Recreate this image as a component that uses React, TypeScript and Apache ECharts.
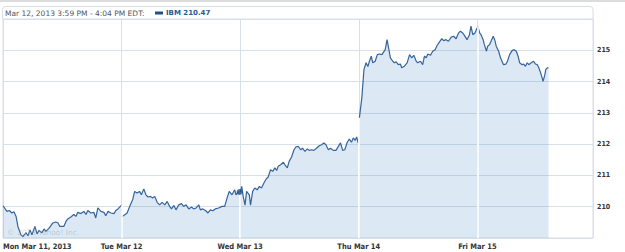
import React, { useEffect, useRef } from "react";
import * as echarts from "echarts";

// Trading minutes per session (9:30 - 16:00)
const SESSION = 390;

const dayLabels = ["Mon Mar 11, 2013", "Tue Mar 12", "Wed Mar 13", "Thu Mar 14", "Fri Mar 15"];
const yTickValues = [210, 211, 212, 213, 214, 215];

// [minutes since open, price]
const monData: [number, number][] = [
  [0, 210.03], [13, 209.85], [21, 209.88], [29, 209.8], [36, 209.84], [43, 209.69], [49, 209.37], [59, 209.1],
  [66, 209.05], [76, 209.17], [82, 209.07], [89, 209.26], [95, 209.1], [105, 209.37], [112, 209.13], [118, 209.24],
  [128, 209.17], [135, 209.29], [141, 209.21], [151, 209.31], [164, 209.48], [174, 209.51], [181, 209.48], [187, 209.37],
  [200, 209.37], [207, 209.53], [213, 209.61], [223, 209.67], [233, 209.75], [240, 209.69], [246, 209.82], [256, 209.78],
  [266, 209.85], [273, 209.75], [279, 209.88], [289, 209.8], [299, 209.82], [305, 209.64], [312, 209.96], [322, 209.85],
  [332, 209.82], [338, 209.71], [345, 209.85], [355, 209.8], [365, 209.78], [371, 209.88], [378, 209.93], [390, 210.05],
];

const tueData: [number, number][] = [
  [0, 209.68], [7, 209.72], [18, 209.8], [29, 210.06], [37, 210.24], [43, 210.49], [51, 210.44], [59, 210.49],
  [65, 210.38], [73, 210.57], [80, 210.38], [87, 210.31], [95, 210.33], [102, 210.28], [109, 210.33], [117, 210.14],
  [125, 210.06], [133, 210.14], [142, 210.06], [150, 210.17], [158, 210.01], [164, 209.93], [172, 210.04], [179, 209.9],
  [188, 210.06], [197, 210.1], [204, 210.01], [212, 210.06], [221, 209.93], [230, 209.99], [237, 209.93], [245, 209.96],
  [254, 210.06], [259, 209.9], [267, 209.93], [276, 209.88], [284, 209.8], [292, 209.9], [300, 209.87], [308, 209.93],
  [319, 209.96], [330, 210.01], [339, 210.01], [347, 210.28], [354, 210.49], [363, 210.38], [372, 210.54], [376, 210.38],
  [383, 210.46], [388, 210.47],
];

const wedData: [number, number][] = [
  [0, 210.45], [5, 210.65], [10, 210.33], [16, 210.05], [21, 210.49], [30, 210.38], [34, 210.05], [41, 210.49],
  [48, 210.6], [56, 210.54], [63, 210.65], [70, 210.6], [78, 210.76], [85, 210.88], [92, 210.95], [100, 211.18],
  [107, 211.13], [114, 211.24], [120, 211.16], [125, 211.29], [133, 211.34], [142, 211.42], [149, 211.31], [155, 211.24],
  [161, 211.45], [169, 211.59], [177, 211.82], [183, 211.91], [191, 211.93], [199, 211.82], [205, 211.87], [213, 211.77],
  [221, 211.85], [227, 211.8], [235, 211.82], [242, 211.8], [251, 211.87], [260, 211.95], [268, 211.98], [275, 212.04],
  [282, 211.98], [290, 211.82], [297, 211.87], [306, 211.8], [315, 211.8], [323, 211.93], [330, 212.04], [337, 211.8],
  [344, 211.82], [352, 212.06], [359, 212.16], [366, 212.06], [372, 212.2], [378, 212.12], [383, 212.23], [388, 212.04],
];

const thuData: [number, number][] = [
  [2, 212.84], [10, 213.48], [17, 214.38], [24, 214.6], [30, 214.48], [35, 214.65], [41, 214.81], [46, 214.6],
  [54, 214.65], [61, 214.86], [68, 214.88], [76, 214.86], [82, 214.95], [87, 215.02], [93, 215.34], [98, 215.08],
  [104, 214.76], [112, 214.65], [117, 214.6], [123, 214.63], [130, 214.54], [137, 214.56], [141, 214.44], [150, 214.49],
  [159, 214.6], [167, 214.86], [174, 214.76], [181, 214.84], [189, 214.65], [194, 214.6], [203, 214.65], [210, 214.54],
  [216, 214.81], [222, 214.76], [227, 214.88], [236, 214.84], [243, 214.97], [251, 215.02], [258, 215.16], [265, 215.26],
  [273, 215.37], [279, 215.31], [287, 215.34], [295, 215.29], [304, 215.42], [312, 215.45], [320, 215.37], [328, 215.55],
  [334, 215.61], [342, 215.55], [348, 215.47], [356, 215.34], [364, 215.5], [369, 215.77], [375, 215.5], [382, 215.55],
  [389, 215.71],
];

const friData: [number, number][] = [
  [1, 215.77], [8, 215.55], [12, 215.5], [19, 215.34], [23, 215.18], [30, 214.97], [34, 215.13], [40, 215.18],
  [45, 215.29], [52, 215.45], [57, 215.34], [62, 215.13], [70, 214.97], [76, 214.76], [81, 214.65], [86, 214.54],
  [94, 214.56], [99, 214.65], [106, 214.86], [114, 214.99], [121, 215.02], [128, 214.97], [134, 214.81], [139, 214.6],
  [147, 214.54], [152, 214.56], [158, 214.49], [164, 214.6], [169, 214.54], [177, 214.6], [185, 214.65], [191, 214.56],
  [197, 214.54], [202, 214.44], [208, 214.28], [213, 214.12], [216, 214.01], [221, 214.18], [225, 214.39], [230, 214.44],
  [234, 214.44],
];

const days = [monData, tueData, wedData, thuData, friData];

const headerText = "Mar 12, 2013 3:59 PM - 4:04 PM EDT:";
const legendText = "IBM 210.47";
const watermarkText = "\u00a9 2013 Yahoo! Inc.";

const FONT_C = "'DejaVu Sans Condensed', 'DejaVu Sans', sans-serif";
const FONT = "'DejaVu Sans', sans-serif";

export default function App() {
  const ref = useRef<HTMLDivElement>(null);

  useEffect(() => {
    if (!ref.current) return;
    const chart = echarts.init(ref.current, null, { renderer: "svg" });

    const seriesData: any[] = [];
    days.forEach((d, k) => {
      if (k > 0) seriesData.push([k * SESSION, "-"]);
      d.forEach(([m, p]) => seriesData.push([k * SESSION + m, p]));
    });

    const boundaries: any[] = [];
    for (let k = 1; k < days.length; k++) {
      const prev = days[k - 1][days[k - 1].length - 1][1];
      const next = days[k][0][1];
      boundaries.push([
        { coord: [k * SESSION, 209] },
        { coord: [k * SESSION, Math.max(prev, next)] },
      ]);
    }

    const tueLast = tueData[tueData.length - 1];
    const hover = [SESSION + tueLast[0], tueLast[1]];

    chart.setOption({
      animation: false,
      grid: {
        left: 2,
        right: 32,
        top: 19,
        bottom: 14,
        show: true,
        borderColor: "#d6dee6",
        borderWidth: 1,
        backgroundColor: "transparent",
      },
      xAxis: {
        type: "value",
        min: 0,
        max: SESSION * 4.975,
        interval: SESSION,
        axisLine: { show: false },
        axisTick: { show: false },
        splitLine: { show: true, lineStyle: { color: "#d8e1ea", width: 1 } },
        axisLabel: {
          show: true,
          margin: 4,
          fontFamily: FONT_C,
          fontSize: 7.5,
          fontWeight: "bold",
          color: "#333",
          showMaxLabel: false,
          alignMinLabel: "left",
          formatter: (v: number) => {
            const i = Math.round(v / SESSION);
            return Math.abs(v - i * SESSION) < 1e-6 && i < dayLabels.length ? dayLabels[i] : "";
          },
        },
      },
      yAxis: {
        type: "value",
        position: "right",
        min: 209,
        max: 216,
        interval: 1,
        axisLine: { show: false },
        axisTick: { show: false },
        splitLine: { show: true, lineStyle: { color: "#d8e1ea", width: 1 } },
        axisLabel: {
          margin: 4,
          fontFamily: FONT_C,
          fontSize: 7,
          fontWeight: "bold",
          color: "#333",
          formatter: (v: number) => (yTickValues.indexOf(v) >= 0 ? String(v) : ""),
        },
      },
      series: [
        {
          type: "line",
          data: seriesData,
          showSymbol: false,
          connectNulls: false,
          lineStyle: { color: "#36649a", width: 1.2 },
          areaStyle: { color: "rgba(48,125,190,0.24)", origin: "start" },
          z: 2,
          markLine: {
            silent: true,
            symbol: ["none", "none"],
            label: { show: false },
            lineStyle: { color: "#ffffff", width: 1.6, type: "solid" },
            data: boundaries,
          },
        },
        {
          type: "scatter",
          data: [hover],
          symbolSize: 6,
          itemStyle: { color: "#1d4f86" },
          z: 5,
        },
      ],
      graphic: [
        {
          type: "line",
          shape: { x1: 0, y1: 1, x2: 625, y2: 1 },
          style: { stroke: "#dcdcdc", lineWidth: 2 },
          silent: true,
        },
        {
          type: "rect",
          shape: { x: 2.5, y: 6.5, width: 590.5, height: 12.5, r: [3, 3, 0, 0] },
          style: { fill: "#ffffff", stroke: "#d6dee6", lineWidth: 1 },
          silent: true,
        },
        {
          type: "text",
          x: 5,
          y: 13,
          style: {
            text: headerText,
            fontFamily: FONT,
            fontSize: 7.5,
            fill: "#555",
            verticalAlign: "middle",
          },
          silent: true,
        },
        {
          type: "rect",
          shape: { x: 155, y: 11.5, width: 8, height: 3 },
          style: { fill: "#1f4f86" },
          silent: true,
        },
        {
          type: "text",
          x: 166,
          y: 13,
          style: {
            text: legendText,
            fontFamily: FONT,
            fontSize: 7,
            fontWeight: "bold",
            fill: "#2b5a90",
            verticalAlign: "middle",
          },
          silent: true,
        },
        {
          type: "text",
          x: 7,
          y: 232,
          z: 10,
          style: {
            text: watermarkText,
            fontFamily: FONT,
            fontSize: 7.5,
            fill: "rgba(150,160,170,0.45)",
            verticalAlign: "middle",
          },
          silent: true,
        },
      ],
    });

    return () => chart.dispose();
  }, []);

  return (
    <div
      ref={ref}
      style={{ position: "absolute", left: 0, top: 0, width: 625, height: 252 }}
    />
  );
}
